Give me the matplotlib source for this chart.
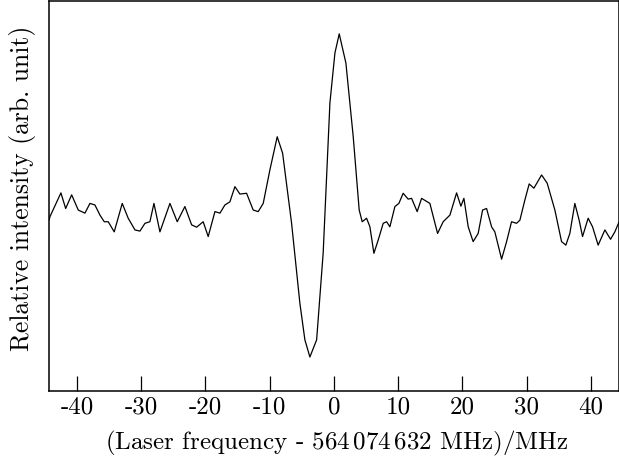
import matplotlib
matplotlib.use("Agg")
import matplotlib.pyplot as plt

plt.rcParams['font.family'] = 'serif'
plt.rcParams['font.serif'] = ['cmr10', 'DejaVu Serif']
plt.rcParams['mathtext.fontset'] = 'cm'
plt.rcParams['axes.unicode_minus'] = False
plt.rcParams['axes.formatter.use_mathtext'] = True

freq = [-44.35, -44.23, -42.52, -41.78, -40.85, -39.82, -38.78, -38.00, -37.22, -36.44,
        -35.77, -35.15, -34.22, -32.97, -32.04, -30.99, -30.21, -29.43, -28.66,
        -28.03, -27.10, -25.54, -24.40, -23.21, -22.16, -21.38, -20.36, -19.58,
        -18.53, -17.75, -16.98, -16.20, -15.42, -14.64, -13.60, -12.57, -11.79,
        -11.01, -9.97, -8.83, -7.99, -6.59, -5.30, -4.52, -3.74, -2.69, -1.67,
        -0.62, 0.16, 0.83, 1.87, 3.01, 3.94, 4.41, 5.09, 5.61, 6.23, 6.90, 7.68,
        8.21, 8.72, 9.50, 10.12, 10.79, 11.57, 12.10, 12.97, 13.66, 14.95, 16.15,
        17.02, 18.07, 19.11, 19.78, 20.25, 20.92, 21.69, 22.47, 23.16, 23.78,
        24.56, 25.07, 26.12, 26.90, 27.67, 28.45, 28.97, 29.75, 30.42, 31.15,
        32.35, 33.22, 34.42, 35.46, 36.13, 36.75, 37.53, 38.20, 38.73, 39.60,
        40.29, 41.16, 42.21, 43.09, 43.76, 44.43]
intensity = [4.40, 4.48, 5.09, 4.69, 5.04, 4.65, 4.57, 4.82, 4.78, 4.52,
             4.35, 4.35, 4.09, 4.82, 4.44, 4.14, 4.11, 4.31, 4.35,
             4.82, 4.09, 4.82, 4.35, 4.74, 4.27, 4.21, 4.35, 3.97,
             4.61, 4.57, 4.78, 4.86, 5.25, 5.06, 5.08, 4.65, 4.61,
             4.82, 5.68, 6.53, 6.11, 4.31, 2.26, 1.32, 0.88, 1.32, 3.55,
             7.40, 8.68, 9.17, 8.42, 6.53, 4.65, 4.35, 4.44, 4.22, 3.54, 3.88, 4.31,
             4.35, 4.22, 4.74, 4.82, 5.08, 4.93, 4.95, 4.61, 4.95, 4.82, 4.05,
             4.35, 4.52, 5.09, 4.75, 4.95, 4.22, 3.84, 4.05, 4.65, 4.69,
             4.22, 4.09, 3.39, 3.84, 4.35, 4.31, 4.39, 4.91, 5.32, 5.21,
             5.55, 5.34, 4.65, 3.84, 3.75, 4.05, 4.82, 4.39, 3.97, 4.44,
             4.22, 3.75, 4.14, 3.90, 4.09, 4.35]

xticks = [-40, -30, -20, -10, 0, 10, 20, 30, 40]
xticklabels = ['-40', '-30', '-20', '-10', '0', '10', '20', '30', '40']

fig = plt.figure(figsize=(6.19, 4.61), dpi=100)
ax = fig.add_axes([49.3 / 619, (461 - 391.3) / 461, (618.5 - 49.3) / 619, (391.3 - 1.5) / 461])
ax.plot(freq, intensity, color='black', linewidth=0.9)
ax.set_xlim(-44.33, 44.33)
ax.set_ylim(0, 10)
ax.set_xticks(xticks)
ax.set_xticklabels(xticklabels)
ax.set_yticks([])
ax.tick_params(axis='x', direction='in', length=11, width=0.9, pad=4, labelsize=18)
for s in ax.spines.values():
    s.set_linewidth(1.1)
ax.set_xlabel(r'(Laser frequency - $564\,074\,632$ MHz)/MHz', fontsize=18)
ax.set_ylabel('Relative intensity (arb. unit)', fontsize=18.5)
ax.xaxis.set_label_coords(0.505, -0.097)
ax.yaxis.set_label_coords(-0.023, 0.52)
fig.savefig('out.png', dpi=100)
